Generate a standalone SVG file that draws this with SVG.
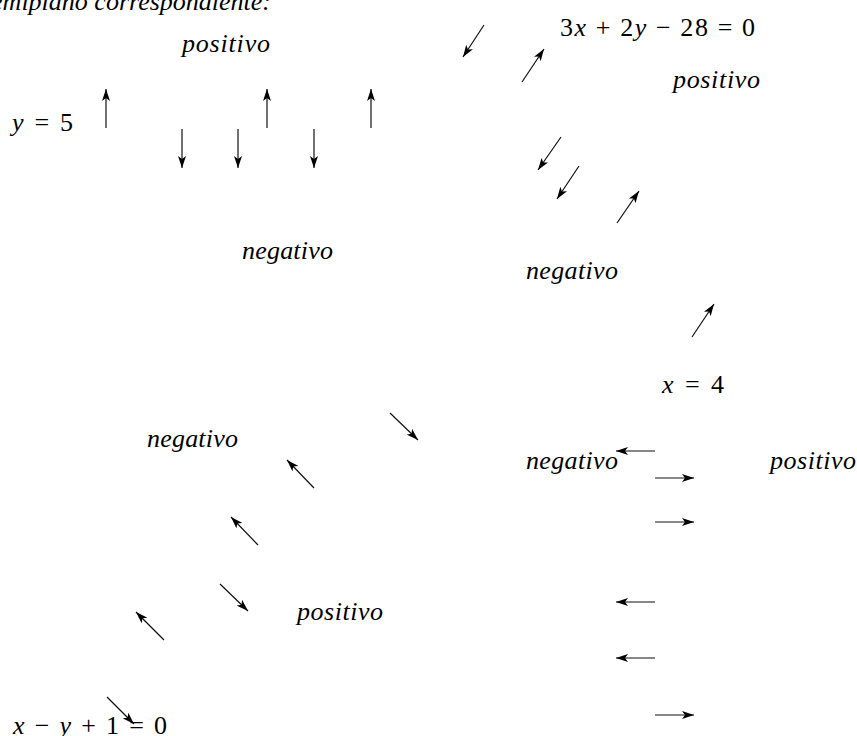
<svg xmlns="http://www.w3.org/2000/svg" width="857" height="736" viewBox="0 0 857 736">
<style>
.t{font-family:"Liberation Serif","Times New Roman",serif;font-style:italic;font-size:26px;fill:#000}
.m{font-family:"Liberation Serif","Times New Roman",serif;font-style:normal;font-size:26px;fill:#000}
.i{font-style:italic}
.a{stroke:#111;stroke-width:1.2;fill:none;marker-end:url(#ah)}
</style>
<defs>
<marker id="ah" markerUnits="userSpaceOnUse" viewBox="0 0 12 8" markerWidth="12" markerHeight="8" refX="12" refY="4" orient="auto">
<path d="M0,0 L12,4 L0,8 L3,4 z" fill="#000"/>
</marker>
</defs>
<rect width="857" height="736" fill="#fff"/>
<g id="title"><text class="t" x="271" y="10" text-anchor="end">semiplano correspondiente:</text></g>
<g id="label-pos-top"><text class="t" x="182" y="52" textLength="88">positivo</text></g>
<g id="eq-y5"><text class="m" x="12" y="131" textLength="61"><tspan class="i">y</tspan> = 5</text></g>
<g id="label-neg-top"><text class="t" x="242" y="259" textLength="91">negativo</text></g>
<g id="eq-3x"><text class="m" x="560" y="36" textLength="195">3<tspan class="i">x</tspan> + 2<tspan class="i">y</tspan> − 28 = 0</text></g>
<g id="label-pos-tr"><text class="t" x="673" y="88" textLength="87">positivo</text></g>
<g id="label-neg-mid"><text class="t" x="526" y="279" textLength="92">negativo</text></g>
<g id="eq-x4"><text class="m" x="662" y="393" textLength="62"><tspan class="i">x</tspan> = 4</text></g>
<g id="label-neg-left"><text class="t" x="147" y="447" textLength="91">negativo</text></g>
<g id="label-neg-right"><text class="t" x="526" y="469" textLength="92">negativo</text></g>
<g id="label-pos-right"><text class="t" x="770" y="469" textLength="86">positivo</text></g>
<g id="label-pos-bottom"><text class="t" x="297" y="620" textLength="86">positivo</text></g>
<g id="eq-xy"><text class="m" x="13" y="734" textLength="154"><tspan class="i">x</tspan> − <tspan class="i">y</tspan> + 1 = 0</text></g>
<g id="connectors">
<line class="a" x1="106" y1="128" x2="106" y2="89"/>
<line class="a" x1="267" y1="128" x2="267" y2="89"/>
<line class="a" x1="371" y1="128" x2="371" y2="89"/>
<line class="a" x1="182" y1="129" x2="182" y2="168"/>
<line class="a" x1="238" y1="129" x2="238" y2="168"/>
<line class="a" x1="314" y1="129" x2="314" y2="168"/>
<line class="a" x1="484" y1="25" x2="463" y2="57"/>
<line class="a" x1="522" y1="82" x2="544" y2="49"/>
<line class="a" x1="561" y1="137" x2="538" y2="170"/>
<line class="a" x1="579" y1="166" x2="557" y2="199"/>
<line class="a" x1="617" y1="223" x2="639" y2="191"/>
<line class="a" x1="692" y1="337" x2="714" y2="304"/>
<line class="a" x1="390" y1="413" x2="418" y2="440"/>
<line class="a" x1="314" y1="488" x2="287" y2="460"/>
<line class="a" x1="258" y1="545" x2="231" y2="517"/>
<line class="a" x1="220" y1="584" x2="248" y2="611"/>
<line class="a" x1="164" y1="640" x2="136" y2="612"/>
<line class="a" x1="107" y1="697" x2="134" y2="724"/>
<line class="a" x1="655" y1="451" x2="616" y2="451"/>
<line class="a" x1="655" y1="478" x2="694" y2="478"/>
<line class="a" x1="655" y1="522" x2="694" y2="522"/>
<line class="a" x1="655" y1="602" x2="616" y2="602"/>
<line class="a" x1="655" y1="658" x2="616" y2="658"/>
<line class="a" x1="655" y1="715" x2="694" y2="715"/>
</g>
</svg>
